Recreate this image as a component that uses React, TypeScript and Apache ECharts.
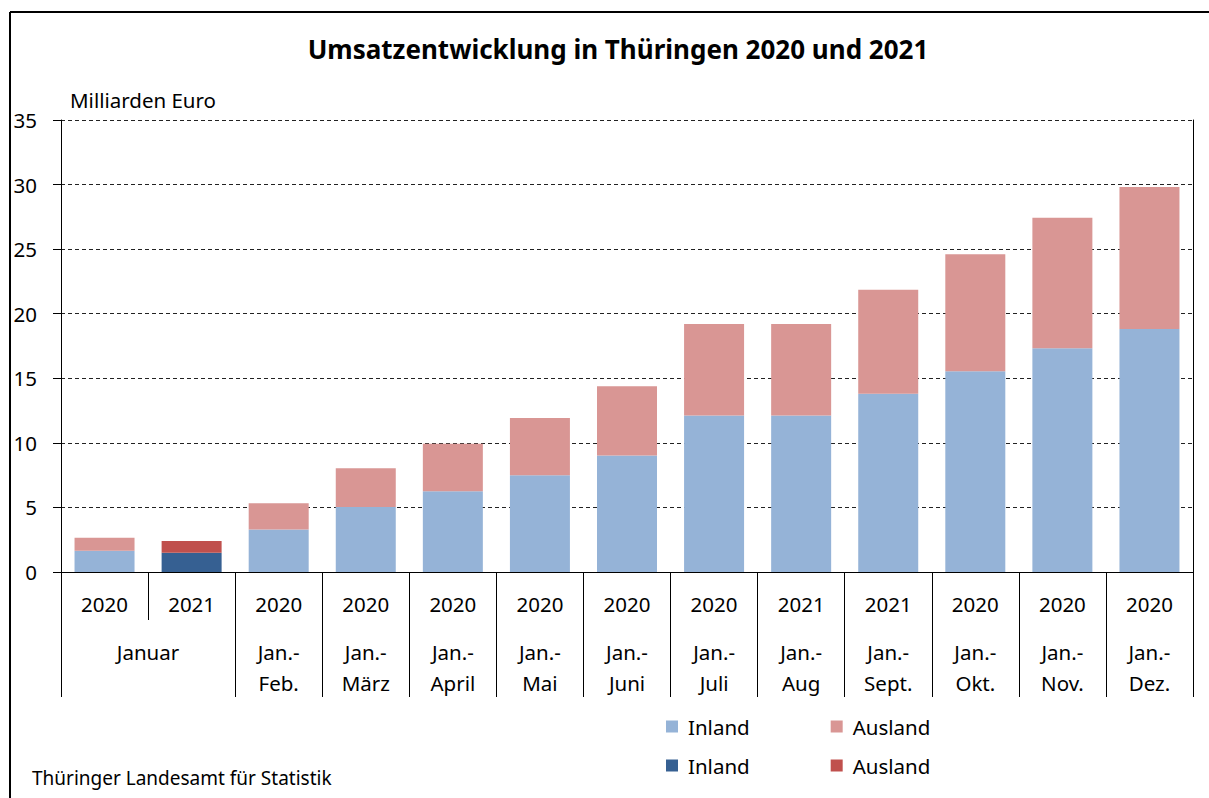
import React, { useEffect, useRef } from "react";
import * as echarts from "echarts";

const years = ["2020", "2021", "2020", "2020", "2020", "2020", "2020", "2020", "2021", "2021", "2020", "2020", "2020"];
const periods = ["Januar", "", "Jan.-\nFeb.", "Jan.-\nMärz", "Jan.-\nApril", "Jan.-\nMai", "Jan.-\nJuni", "Jan.-\nJuli", "Jan.-\nAug", "Jan.-\nSept.", "Jan.-\nOkt.", "Jan.-\nNov.", "Jan.-\nDez."];
// Milliarden Euro
const inland = [1.64, 1.5, 3.3, 5.03, 6.25, 7.49, 9.03, 12.11, 12.11, 13.81, 15.54, 17.32, 18.82];
const ausland = [1.01, 0.9, 2.02, 3.0, 3.69, 4.43, 5.35, 7.09, 7.09, 8.05, 9.06, 10.12, 10.99];
// which categories are drawn in the dark (highlighted) colours
const highlighted = [false, true, false, false, false, false, false, false, false, false, false, false, false];
const yTicks = { min: 0, max: 35, interval: 5 };

const FONT = "'Noto Sans', sans-serif";
const FS = 20.5;
const C_IN = "#95B3D7";
const C_AUS = "#D99694";
const C_IN_D = "#366092";
const C_AUS_D = "#C0504D";

export default function App() {
  const ref = useRef<HTMLDivElement>(null);
  useEffect(() => {
    if (!ref.current) return;
    const chart = echarts.init(ref.current, null, { renderer: "svg" });
    const pick = (arr: number[], hl: boolean) => arr.map((v, i) => (highlighted[i] === hl ? v : "-"));
    const barW = 60;
    const legendBase = {
      left: 661,
      orient: "horizontal",
      itemWidth: 12,
      itemHeight: 12,
      itemGap: 81,
      icon: "rect",
      formatter: (n: string) => n.split(" ")[0],
      textStyle: { fontFamily: FONT, fontSize: FS, color: "#000", padding: [0, 0, 0, 5] },
      selectedMode: false,
    };
    const option: any = {
      animation: false,
      backgroundColor: "#fff",
      textStyle: { fontFamily: FONT, color: "#000" },
      title: [
        {
          text: "Umsatzentwicklung in Thüringen 2020 und 2021",
          left: 613,
          top: 31,
          textAlign: "center",
          textStyle: { fontFamily: FONT, fontWeight: "bold", fontSize: 26, color: "#000" },
        },
        {
          text: "Milliarden Euro",
          left: 65,
          top: 84,
          textStyle: { fontFamily: FONT, fontWeight: "normal", fontSize: FS, color: "#000" },
        },
        {
          text: "Thüringer Landesamt für Statistik",
          left: 27,
          top: 763,
          textStyle: { fontFamily: FONT, fontWeight: "normal", fontSize: 19, color: "#000" },
        },
      ],
      legend: [
        { ...legendBase, data: ["Inland 2020", "Ausland 2020"], top: 711 },
        { ...legendBase, data: ["Inland 2021", "Ausland 2021"], top: 750 },
      ],
      grid: { left: 61, right: 16, top: 120, bottom: 226, containLabel: false },
      xAxis: [
        {
          type: "category",
          data: years,
          position: "bottom",
          axisLine: { show: true, lineStyle: { color: "#000", width: 1 } },
          axisTick: { show: true, length: 48, interval: 0, lineStyle: { color: "#000", width: 1 } },
          axisLabel: { interval: 0, margin: 21, fontSize: FS, color: "#000", fontFamily: FONT },
        },
        {
          type: "category",
          data: periods.map((p, i) =>
            i === 0 && periods[1] === ""
              ? { value: p, textStyle: { padding: [0, 0, 0, 87] } }
              : { value: p }
          ),
          position: "bottom",
          offset: 0,
          axisLine: { show: false },
          axisTick: {
            show: true,
            length: 125,
            interval: (i: number) => periods[i] !== "",
            lineStyle: { color: "#000", width: 1 },
          },
          axisLabel: {
            interval: 0,
            margin: 64,
            fontSize: FS,
            lineHeight: 31,
            color: "#000",
            fontFamily: FONT,
            verticalAlign: "top",
          },
        },
      ],
      yAxis: [
        {
          type: "value",
          min: yTicks.min,
          max: yTicks.max,
          interval: yTicks.interval,
          axisLine: { show: true, lineStyle: { color: "#000", width: 1 } },
          axisTick: { show: true, inside: false, length: 8, lineStyle: { color: "#000", width: 1 } },
          axisLabel: { margin: 24, fontSize: FS, color: "#000", fontFamily: FONT },
          splitLine: { show: true, lineStyle: { color: "#222", width: 1, type: [4, 3] } },
        },
        {
          type: "value",
          position: "right",
          min: yTicks.min,
          max: yTicks.max,
          interval: yTicks.interval,
          axisLine: { show: true, lineStyle: { color: "#000", width: 1 } },
          axisTick: { show: false },
          axisLabel: { show: false },
          splitLine: { show: false },
        },
      ],
      series: [
        { name: "Inland 2020", type: "bar", stack: "t", barWidth: barW, data: pick(inland, false), itemStyle: { color: C_IN } },
        { name: "Ausland 2020", type: "bar", stack: "t", barWidth: barW, data: pick(ausland, false), itemStyle: { color: C_AUS } },
        { name: "Inland 2021", type: "bar", stack: "t", barWidth: barW, data: pick(inland, true), itemStyle: { color: C_IN_D } },
        { name: "Ausland 2021", type: "bar", stack: "t", barWidth: barW, data: pick(ausland, true), itemStyle: { color: C_AUS_D } },
      ],
      graphic: [
        { type: "line", shape: { x1: 10, y1: 12, x2: 1209, y2: 12 }, style: { stroke: "#000", lineWidth: 2 } },
        { type: "line", shape: { x1: 10, y1: 12, x2: 10, y2: 798 }, style: { stroke: "#000", lineWidth: 2 } },
      ],
    };
    chart.setOption(option);
    return () => chart.dispose();
  }, []);
  return <div ref={ref} style={{ position: "fixed", left: 0, top: 0, width: 1209, height: 798 }} />;
}
